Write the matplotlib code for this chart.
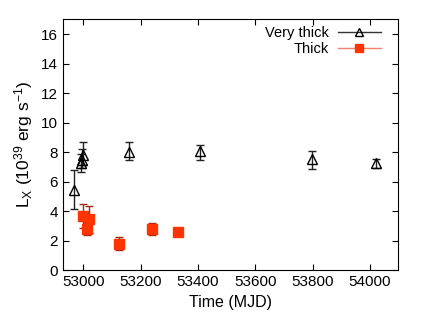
import numpy as np
import matplotlib
matplotlib.use("Agg")
import matplotlib.pyplot as plt
from matplotlib.lines import Line2D

plt.rcParams['font.family'] = ['Liberation Sans', 'DejaVu Sans']
plt.rcParams['mathtext.fontset'] = 'custom'
plt.rcParams['mathtext.rm'] = 'Liberation Sans'
plt.rcParams['mathtext.it'] = 'Liberation Sans'

# Very thick
vt_mjd = [52967, 52993, 52996, 52999, 53160, 53407, 53799, 54022]
vt_lx = [5.43, 7.27, 7.5, 7.79, 7.99, 8.07, 7.51, 7.24]
vt_lo = [4.16, 6.66, 6.9, 7.1, 7.49, 7.49, 6.88, 6.9]
vt_hi = [6.78, 7.9, 8.2, 8.67, 8.68, 8.48, 8.1, 7.51]

# Thick
t_mjd = [52998, 53014, 53021, 53125, 53240, 53331]
t_lx = [3.67, 2.77, 3.45, 1.79, 2.78, 2.6]
t_lo = [2.86, 2.38, 2.5, 1.39, 2.4, 2.4]
t_hi = [4.48, 3.19, 4.39, 2.28, 3.19, 2.8]

fig = plt.figure(figsize=(4.25, 3.22), dpi=100)
ax = fig.add_axes([0.148, 0.1605, 0.788, 0.7795])

vt_err = [np.array(vt_lx) - np.array(vt_lo), np.array(vt_hi) - np.array(vt_lx)]
t_err = [np.array(t_lx) - np.array(t_lo), np.array(t_hi) - np.array(t_lx)]

ax.errorbar(vt_mjd, vt_lx, yerr=vt_err, fmt='^', mfc='none', mec='black',
            ms=7, mew=1.0, ecolor='#222222', elinewidth=1.0, capsize=3)
ax.errorbar(t_mjd, t_lx, yerr=t_err, fmt='s', mfc='#ff3300', mec='#ff3300',
            ms=7, ecolor='#a02818', elinewidth=1.0, capsize=3)

ax.set_xlim(52929, 54097)
ax.set_ylim(0, 17)
ax.set_xticks([53000, 53200, 53400, 53600, 53800, 54000])
ax.set_yticks(range(0, 17, 2))
ax.tick_params(direction='in', top=True, right=True, labelsize=11, length=4)
ax.set_xlabel('Time (MJD)', fontsize=11.5)
ax.set_ylabel(r'L$_{\rm X}$ (10$^{39}$ erg s$^{-1}$)', fontsize=12.5, labelpad=4)

handles = [Line2D([], [], color='#333333', lw=1, marker='^', mfc='none', mec='black', ms=6),
           Line2D([], [], color='#f08070', lw=1, marker='s', mfc='#ff3300', mec='#ff3300', ms=6)]
ax.legend(handles, ['Very thick', 'Thick'], loc='upper right', frameon=False,
          markerfirst=False, numpoints=1, handlelength=3.0, fontsize=10.5,
          bbox_to_anchor=(0.99, 1.025), labelspacing=0.15, handletextpad=0.6)

fig.savefig('out.png', dpi=100)
